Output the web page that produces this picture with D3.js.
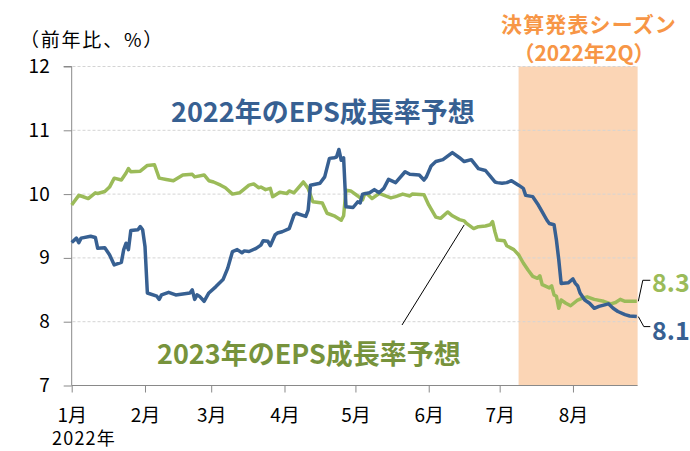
<!DOCTYPE html>
<html><head><meta charset="utf-8">
<script src="https://cdn.jsdelivr.net/npm/d3@7"></script>
<style>
html,body{margin:0;padding:0;background:#fff;}
svg{display:block;font-family:"Noto Sans CJK JP","Noto Sans",sans-serif;}
</style></head>
<body><svg id="c" width="690" height="451"></svg>
<script>
// ---- data ----
const monthTicks = ["2022-01-01","2022-02-01","2022-03-01","2022-04-01","2022-05-01","2022-06-01","2022-07-01","2022-08-01"];
const monthLabels = ["1月","2月","3月","4月","5月","6月","7月","8月"];
const yTicks = [7, 8, 9, 10, 11, 12];
const seasonPeriod = ["2022-07-09", "2022-08-28"];

const dates2022 = ["2022-01-01","2022-01-03","2022-01-04","2022-01-05","2022-01-09","2022-01-11","2022-01-12","2022-01-15","2022-01-17","2022-01-19","2022-01-22","2022-01-23","2022-01-24","2022-01-25","2022-01-26","2022-01-29","2022-01-30","2022-01-31","2022-02-01","2022-02-02","2022-02-06","2022-02-07","2022-02-08","2022-02-11","2022-02-14","2022-02-20","2022-02-21","2022-02-22","2022-02-23","2022-02-24","2022-02-26","2022-02-28","2022-03-03","2022-03-06","2022-03-08","2022-03-10","2022-03-12","2022-03-14","2022-03-15","2022-03-17","2022-03-20","2022-03-22","2022-03-23","2022-03-25","2022-03-26","2022-03-28","2022-03-29","2022-03-31","2022-04-03","2022-04-05","2022-04-06","2022-04-10","2022-04-11","2022-04-12","2022-04-16","2022-04-18","2022-04-20","2022-04-22","2022-04-23","2022-04-24","2022-04-25","2022-04-26","2022-04-27","2022-04-30","2022-05-02","2022-05-03","2022-05-04","2022-05-07","2022-05-09","2022-05-11","2022-05-13","2022-05-15","2022-05-18","2022-05-22","2022-05-24","2022-05-28","2022-05-30","2022-05-31","2022-06-02","2022-06-04","2022-06-07","2022-06-11","2022-06-14","2022-06-16","2022-06-19","2022-06-22","2022-06-25","2022-06-27","2022-06-29","2022-06-30","2022-07-02","2022-07-04","2022-07-06","2022-07-09","2022-07-11","2022-07-12","2022-07-15","2022-07-17","2022-07-19","2022-07-21","2022-07-22","2022-07-24","2022-07-25","2022-07-26","2022-07-27","2022-07-30","2022-08-01","2022-08-02","2022-08-03","2022-08-04","2022-08-06","2022-08-08","2022-08-10","2022-08-12","2022-08-16","2022-08-18","2022-08-20","2022-08-23","2022-08-25","2022-08-28"];
const eps2022 = [9.24,9.31,9.24,9.31,9.34,9.32,9.15,9.16,9.05,8.89,8.93,9.13,9.23,9.13,9.43,9.44,9.49,9.44,9.18,8.45,8.40,8.35,8.42,8.46,8.42,8.45,8.50,8.35,8.42,8.40,8.32,8.45,8.55,8.66,8.84,9.10,9.13,9.08,9.11,9.10,9.15,9.20,9.27,9.26,9.19,9.36,9.39,9.41,9.46,9.67,9.70,9.65,9.75,10.14,10.17,10.27,10.56,10.57,10.58,10.70,10.53,10.57,9.80,9.79,9.88,9.86,10.00,10.02,10.07,10.02,10.09,10.23,10.18,10.35,10.31,10.30,10.22,10.27,10.44,10.51,10.54,10.65,10.57,10.51,10.54,10.40,10.37,10.28,10.19,10.18,10.17,10.18,10.21,10.14,10.09,9.98,9.96,9.85,9.72,9.59,9.54,9.52,9.28,8.97,8.60,8.61,8.67,8.60,8.56,8.45,8.34,8.29,8.21,8.24,8.28,8.21,8.16,8.11,8.09,8.08];

const dates2023 = ["2022-01-01","2022-01-02","2022-01-04","2022-01-05","2022-01-08","2022-01-11","2022-01-12","2022-01-15","2022-01-17","2022-01-19","2022-01-22","2022-01-24","2022-01-25","2022-01-26","2022-01-30","2022-02-02","2022-02-05","2022-02-07","2022-02-10","2022-02-13","2022-02-17","2022-02-21","2022-02-22","2022-02-26","2022-02-28","2022-03-02","2022-03-05","2022-03-07","2022-03-10","2022-03-13","2022-03-17","2022-03-19","2022-03-21","2022-03-22","2022-03-24","2022-03-26","2022-03-27","2022-03-30","2022-04-02","2022-04-03","2022-04-05","2022-04-09","2022-04-11","2022-04-13","2022-04-17","2022-04-19","2022-04-22","2022-04-25","2022-04-26","2022-04-27","2022-04-29","2022-05-02","2022-05-04","2022-05-05","2022-05-06","2022-05-08","2022-05-11","2022-05-16","2022-05-18","2022-05-21","2022-05-24","2022-05-25","2022-05-30","2022-06-01","2022-06-04","2022-06-06","2022-06-09","2022-06-11","2022-06-14","2022-06-16","2022-06-17","2022-06-20","2022-06-22","2022-06-25","2022-06-27","2022-06-28","2022-06-29","2022-06-30","2022-07-03","2022-07-04","2022-07-07","2022-07-09","2022-07-11","2022-07-13","2022-07-15","2022-07-17","2022-07-18","2022-07-19","2022-07-22","2022-07-23","2022-07-24","2022-07-25","2022-07-26","2022-07-27","2022-07-29","2022-07-31","2022-08-03","2022-08-05","2022-08-07","2022-08-10","2022-08-14","2022-08-17","2022-08-19","2022-08-21","2022-08-23","2022-08-28"];
const eps2023 = [9.83,9.88,9.98,9.97,9.93,10.02,10.01,10.04,10.11,10.25,10.22,10.33,10.40,10.35,10.36,10.45,10.46,10.25,10.23,10.21,10.30,10.31,10.27,10.30,10.21,10.19,10.14,10.10,10.00,10.02,10.14,10.16,10.10,10.11,10.07,10.09,9.96,10.03,10.01,10.05,10.02,10.19,10.09,9.88,9.86,9.70,9.66,9.59,9.66,10.06,10.05,9.97,9.91,10.01,10.00,9.93,10.01,9.94,9.96,10.00,9.97,10.00,9.99,9.83,9.64,9.62,9.72,9.66,9.60,9.58,9.54,9.46,9.49,9.50,9.52,9.57,9.41,9.28,9.27,9.19,9.13,9.05,8.92,8.81,8.71,8.68,8.72,8.58,8.53,8.56,8.42,8.40,8.21,8.34,8.29,8.25,8.34,8.37,8.39,8.35,8.32,8.28,8.30,8.35,8.32,8.32];

const last2022Label = "8.1";
const last2023Label = "8.3";

// ---- chart ----
const parse = d3.timeParse("%Y-%m-%d");
const svg = d3.select("#c");
const x = d3.scaleTime().domain([parse("2022-01-01"), parse("2022-08-28")]).range([71.7, 636.8]);
const y = d3.scaleLinear().domain([7, 12]).range([385.5, 66.5]);
const plotRight = 637.6;

const BLUE = "#376092", GREEN = "#9BBB59", GREEN_TXT = "#77933C", ORANGE = "#F79646";

function fitWidth(sel, w) {
  sel.each(function () {
    const n = this.textContent.length;
    const len = this.getComputedTextLength();
    if (n > 1) d3.select(this).attr("letter-spacing", (w - len) / n);
  });
}

// season band
svg.append("rect")
  .attr("x", x(parse(seasonPeriod[0]))).attr("y", y(12))
  .attr("width", plotRight - x(parse(seasonPeriod[0]))).attr("height", y(7) - y(12))
  .attr("fill", "#FBD5B5");

// gridlines
svg.append("g").selectAll("line").data(yTicks.filter(v => v > 7)).join("line")
  .attr("x1", 72.5).attr("x2", plotRight)
  .attr("y1", d => y(d)).attr("y2", d => y(d))
  .attr("stroke", "#D4D4D4").attr("stroke-width", 1).attr("stroke-dasharray", "3,2");

// y axis
const yAxis = d3.axisLeft(y).tickValues(yTicks).tickSize(8).tickPadding(14).tickFormat(d3.format("d"));
const gy = svg.append("g").attr("transform", "translate(71.7,0)").call(yAxis);
gy.select(".domain").attr("stroke", "#898989").attr("d", `M-8,${y(12)}H0V${y(7)}`);
gy.selectAll(".tick line").attr("stroke", "#898989");
gy.selectAll(".tick text").attr("font-size", 19).attr("fill", "#000")
  .attr("font-family", "'Noto Sans CJK JP',sans-serif");

// x axis
const xAxis = d3.axisBottom(x).tickValues(monthTicks.map(parse)).tickSize(7).tickPadding(16)
  .tickFormat((d, i) => monthLabels[i]);
const gx = svg.append("g").attr("transform", `translate(0,${y(7)})`).call(xAxis);
gx.select(".domain").attr("stroke", "#898989").attr("d", `M${x.range()[0]},0H${plotRight}`);
gx.selectAll(".tick line").attr("stroke", "#898989");
gx.selectAll(".tick text").attr("font-size", 19).attr("fill", "#000")
  .attr("font-family", "'Noto Sans CJK JP',sans-serif");

svg.append("text").attr("x", 52).attr("y", 437).attr("dominant-baseline", "central")
  .attr("font-size", 18).attr("fill", "#000").text("2022年")
  .call(fitWidth, 64);

svg.append("text").attr("x", 20).attr("y", 38).attr("dominant-baseline", "central")
  .attr("font-size", 19).attr("fill", "#000").text("（前年比、%）")
  .call(fitWidth, 144);

// lines
const line = d3.line().x(d => x(d[0])).y(d => y(d[1]));
const s2023 = dates2023.map((d, i) => [parse(d), eps2023[i]]);
const s2022 = dates2022.map((d, i) => [parse(d), eps2022[i]]);
svg.append("path").datum(s2023).attr("d", line).attr("fill", "none")
  .attr("stroke", GREEN).attr("stroke-width", 3.5).attr("stroke-linejoin", "round");
svg.append("path").datum(s2022).attr("d", line).attr("fill", "none")
  .attr("stroke", BLUE).attr("stroke-width", 3.5).attr("stroke-linejoin", "round");

// season label
const season = svg.append("g").attr("fill", ORANGE).attr("font-weight", "bold").attr("font-size", 21).attr("text-anchor", "middle");
season.append("text").attr("x", 589).attr("y", 23).attr("dominant-baseline", "central").text("決算発表シーズン")
  .call(fitWidth, 176);
season.append("text").attr("x", 584).attr("y", 52).attr("dominant-baseline", "central").text("（2022年2Q）");

// series titles
svg.append("text").attr("x", 171).attr("y", 110).attr("dominant-baseline", "central")
  .attr("font-size", 27).attr("font-weight", "bold").attr("fill", BLUE).text("2022年のEPS成長率予想");
svg.append("text").attr("x", 157).attr("y", 352).attr("dominant-baseline", "central")
  .attr("font-size", 27).attr("font-weight", "bold").attr("fill", GREEN_TXT).text("2023年のEPS成長率予想");

// leader to 2023 title
const p23 = s2023[dates2023.indexOf("2022-06-16")];
svg.append("line").attr("x1", x(p23[0])).attr("y1", y(p23[1]) + 4)
  .attr("x2", 402).attr("y2", 325).attr("stroke", "#000").attr("stroke-width", 1);

// end labels
const end23 = s2023[s2023.length - 1], end22 = s2022[s2022.length - 1];
const ex = x(end23[0]) + 1.5;
svg.append("path").attr("d", `M${ex},${y(end23[1])}L${ex + 4.5},${y(end23[1]) - 21}H${ex + 12}`)
  .attr("fill", "none").attr("stroke", "#000").attr("stroke-width", 1);
svg.append("path").attr("d", `M${ex},${y(end22[1])}L${ex + 5.5},${y(end22[1]) + 10}H${ex + 12}`)
  .attr("fill", "none").attr("stroke", "#000").attr("stroke-width", 1);
svg.append("text").attr("x", 652).attr("y", 281).attr("dominant-baseline", "central")
  .attr("font-size", 25).attr("font-weight", "bold").attr("fill", GREEN).text(last2023Label);
svg.append("text").attr("x", 652).attr("y", 329).attr("dominant-baseline", "central")
  .attr("font-size", 25).attr("font-weight", "bold").attr("fill", BLUE).text(last2022Label);
</script></body></html>
